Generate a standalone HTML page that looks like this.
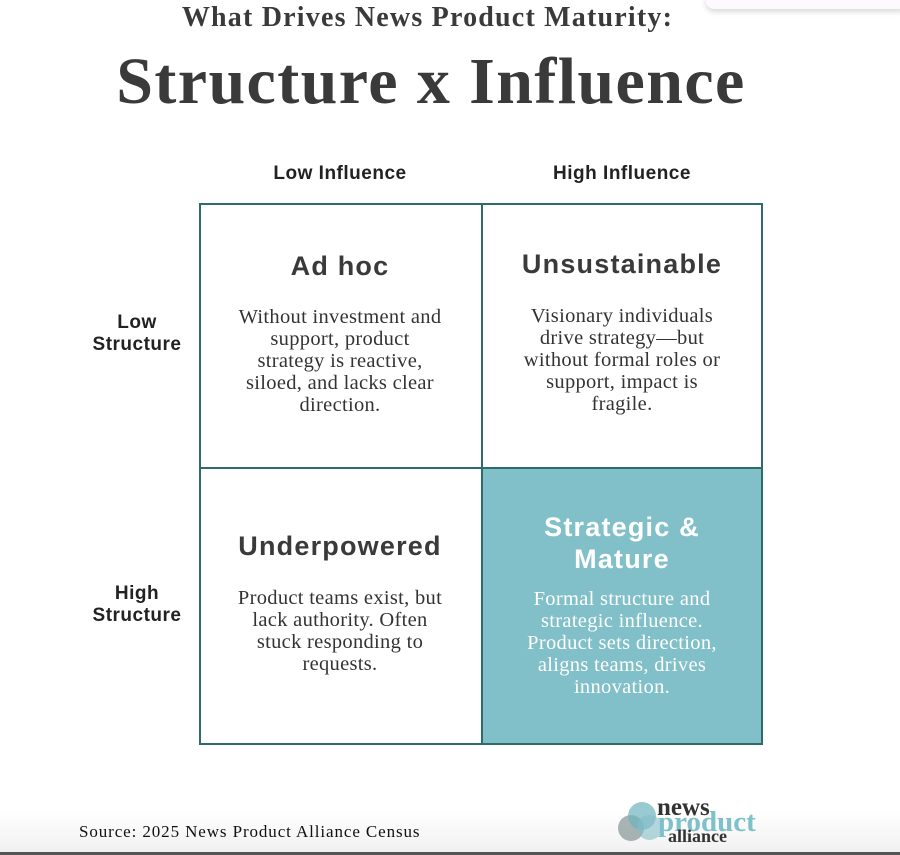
<!DOCTYPE html>
<html><head><meta charset="utf-8"><style>
body{margin:0;width:900px;height:855px;background:#fff;position:relative;overflow:hidden;font-family:"Liberation Sans",sans-serif;color:#333}
.a{position:absolute}
.t1{left:0;width:855px;text-align:center;top:2px;font:bold 28px "Liberation Serif",serif;color:#3a3a3a;letter-spacing:1.2px}
.t2{left:0;width:862px;text-align:center;top:44px;font:bold 66px "Liberation Serif",serif;color:#3a3a3a;letter-spacing:1.4px}
.h{font-weight:bold;font-size:19px;color:#222;text-align:center;letter-spacing:0.5px}
.cell{position:absolute;box-sizing:border-box;text-align:center}
.q{font-weight:bold;font-size:27px;color:#3a3a3a;letter-spacing:1.2px}
.b{font:20.5px/22px "Liberation Serif",serif;color:#333;letter-spacing:0.3px;white-space:nowrap}
.box{position:absolute;left:199px;top:203px;width:564px;height:542px;border:2px solid #2e6b6b;box-sizing:border-box}
</style></head><body>
<div class="a" style="left:706px;top:-10px;width:200px;height:19px;border-radius:8px;background:#fdfafd;box-shadow:0 3px 6px rgba(0,0,0,.15)"></div>
<div class="a t1">What Drives News Product Maturity:</div>
<div class="a t2">Structure x Influence</div>
<div class="a h" style="left:240px;width:200px;top:163px">Low Influence</div>
<div class="a h" style="left:522px;width:200px;top:163px">High Influence</div>
<div class="a h" style="left:77px;width:120px;top:312px;line-height:22px">Low<br>Structure</div>
<div class="a h" style="left:77px;width:120px;top:583px;line-height:22px">High<br>Structure</div>
<div class="a" style="left:483px;top:469px;width:279px;height:275px;background:#82c0c9"></div>
<div class="box"></div>
<div class="a" style="left:481px;top:203px;width:2px;height:542px;background:#2e6b6b"></div>
<div class="a" style="left:199px;top:467px;width:564px;height:2px;background:#2e6b6b"></div>
<div class="cell" style="left:216px;width:248px;top:251px"><div class="q">Ad hoc</div><div class="b" style="margin-top:24px">Without investment and<br>support, product<br>strategy is reactive,<br>siloed, and lacks clear<br>direction.</div></div>
<div class="cell" style="left:500px;width:244px;top:249px"><div class="q">Unsustainable</div><div class="b" style="margin-top:25px">Visionary individuals<br>drive strategy—but<br>without formal roles or<br>support, impact is<br>fragile.</div></div>
<div class="cell" style="left:216px;width:248px;top:531px"><div class="q">Underpowered</div><div class="b" style="margin-top:25px">Product teams exist, but<br>lack authority. Often<br>stuck responding to<br>requests.</div></div>
<div class="cell" style="left:500px;width:244px;top:511px"><div class="q" style="color:#fff;line-height:32px">Strategic &amp;<br>Mature</div><div class="b" style="margin-top:13px;color:#fff">Formal structure and<br>strategic influence.<br>Product sets direction,<br>aligns teams, drives<br>innovation.</div></div>
<div class="a" style="left:0;top:810px;width:900px;height:45px;background:linear-gradient(#fff,#f0f0f0)"></div>
<div class="a" style="left:79px;top:822px;font:17px 'Liberation Serif',serif;color:#111;letter-spacing:0.9px">Source: 2025 News Product Alliance Census</div>
<div class="a" style="left:0;top:852px;width:900px;height:3px;background:#555"></div>
<div class="a" style="left:618px;top:815px;width:26px;height:26px;border-radius:50%;background:rgba(100,120,120,.55)"></div>
<div class="a" style="left:628px;top:802px;width:28px;height:28px;border-radius:50%;background:rgba(110,180,190,.7)"></div>
<div class="a" style="left:637px;top:815px;width:25px;height:25px;border-radius:50%;background:rgba(130,190,200,.6)"></div>
<div class="a" style="left:657px;top:799px;font:bold 25px/18px 'Liberation Serif',serif;color:#333">news</div>
<div class="a" style="left:658px;top:812px;font:bold 29px/20px 'Liberation Serif',serif;color:#7fc1cb">product</div>
<div class="a" style="left:668px;top:829px;font:bold 18px/14px 'Liberation Serif',serif;color:#333">alliance</div>
</body></html>
